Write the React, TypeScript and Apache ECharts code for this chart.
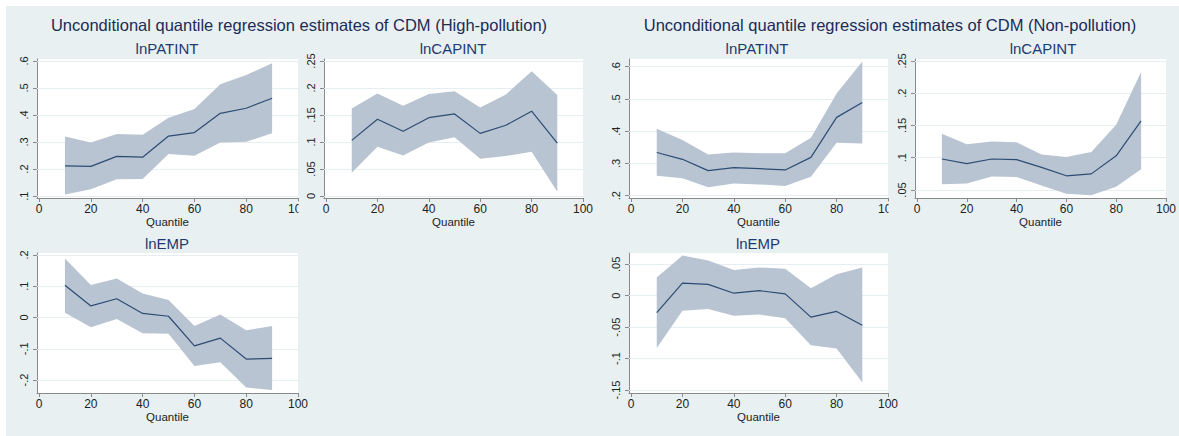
import React, { useEffect, useRef } from "react";
import * as echarts from "echarts";

// ---------------- data ----------------
const quantiles = [10, 20, 30, 40, 50, 60, 70, 80, 90];
const xTicks = [0, 20, 40, 60, 80, 100];

// High-pollution
const hpPatEst = [0.212, 0.21, 0.247, 0.244, 0.322, 0.335, 0.406, 0.425, 0.462];
const hpPatLo = [0.106, 0.125, 0.162, 0.163, 0.256, 0.249, 0.298, 0.301, 0.332];
const hpPatHi = [0.32, 0.298, 0.33, 0.327, 0.39, 0.422, 0.514, 0.548, 0.591];

const hpCapEst = [0.103, 0.142, 0.12, 0.145, 0.152, 0.116, 0.131, 0.157, 0.098];
const hpCapLo = [0.043, 0.091, 0.075, 0.099, 0.109, 0.069, 0.074, 0.082, 0.008];
const hpCapHi = [0.162, 0.19, 0.167, 0.189, 0.194, 0.164, 0.188, 0.231, 0.187];

const hpEmpEst = [0.103, 0.037, 0.06, 0.013, 0.004, -0.091, -0.066, -0.133, -0.131];
const hpEmpLo = [0.015, -0.031, -0.005, -0.05, -0.052, -0.155, -0.143, -0.224, -0.232];
const hpEmpHi = [0.189, 0.104, 0.125, 0.077, 0.056, -0.027, 0.01, -0.041, -0.027];

// Non-pollution
const npPatEst = [0.334, 0.313, 0.278, 0.287, 0.284, 0.28, 0.319, 0.443, 0.489];
const npPatLo = [0.262, 0.254, 0.226, 0.238, 0.235, 0.23, 0.259, 0.364, 0.362];
const npPatHi = [0.408, 0.373, 0.328, 0.334, 0.332, 0.332, 0.38, 0.517, 0.616];

const npCapEst = [0.098, 0.091, 0.098, 0.097, 0.085, 0.072, 0.075, 0.103, 0.157];
const npCapLo = [0.059, 0.06, 0.071, 0.07, 0.057, 0.044, 0.042, 0.055, 0.082];
const npCapHi = [0.137, 0.121, 0.125, 0.124, 0.105, 0.101, 0.109, 0.151, 0.233];

const npEmpEst = [-0.027, 0.02, 0.018, 0.004, 0.008, 0.003, -0.034, -0.025, -0.047];
const npEmpLo = [-0.083, -0.024, -0.021, -0.032, -0.03, -0.036, -0.079, -0.084, -0.138];
const npEmpHi = [0.029, 0.064, 0.056, 0.041, 0.045, 0.043, 0.012, 0.034, 0.045];

// y tick values
const hpPatTicks = [0.1, 0.2, 0.3, 0.4, 0.5, 0.6];
const hpCapTicks = [0, 0.05, 0.1, 0.15, 0.2, 0.25];
const hpEmpTicks = [-0.2, -0.1, 0, 0.1, 0.2];
const npPatTicks = [0.2, 0.3, 0.4, 0.5, 0.6];
const npCapTicks = [0.05, 0.1, 0.15, 0.2, 0.25];
const npEmpTicks = [-0.15, -0.1, -0.05, 0, 0.05];

const mainTitles = [
  "Unconditional quantile regression estimates of CDM (High-pollution)",
  "Unconditional quantile regression estimates of CDM (Non-pollution)",
];
const xName = "Quantile";

// ---------------- layout / style ----------------
const OX = 6;
const OY = 6;
const BG = "#e8f0f2";
const BAND = "#b9c4d2";
const LINE = "#2c4c74";
const AXIS = "#8a8a8a";
const GRIDLINE = "#e6eef1";
const FONT = "'Liberation Sans', Arial, Helvetica, sans-serif";

const panels = [
  { name: "lnPATINT", est: hpPatEst, lo: hpPatLo, hi: hpPatHi, ticks: hpPatTicks,
    x0: 37, x1: 298, y0: 59, y1: 198, yMin: 0.093, yMax: 0.607, tx: 167, ty: 48 },
  { name: "lnCAPINT", est: hpCapEst, lo: hpCapLo, hi: hpCapHi, ticks: hpCapTicks,
    x0: 324, x1: 583, y0: 59, y1: 198, yMin: -0.0037, yMax: 0.2537, tx: 453, ty: 48 },
  { name: "lnEMP", est: hpEmpEst, lo: hpEmpLo, hi: hpEmpHi, ticks: hpEmpTicks,
    x0: 37, x1: 298, y0: 253, y1: 393, yMin: -0.2416, yMax: 0.2064, tx: 167, ty: 243 },
  { name: "lnPATINT", est: npPatEst, lo: npPatLo, hi: npPatHi, ticks: npPatTicks,
    x0: 629, x1: 888, y0: 59, y1: 198, yMin: 0.193, yMax: 0.624, tx: 757, ty: 48 },
  { name: "lnCAPINT", est: npCapEst, lo: npCapLo, hi: npCapHi, ticks: npCapTicks,
    x0: 915, x1: 1175, y0: 59, y1: 198, yMin: 0.0376, yMax: 0.253, tx: 1043, ty: 48 },
  { name: "lnEMP", est: npEmpEst, lo: npEmpLo, hi: npEmpHi, ticks: npEmpTicks,
    x0: 629, x1: 888, y0: 253, y1: 393, yMin: -0.1548, yMax: 0.068, tx: 758, ty: 243 },
];

const fmt = (v: number) => (v === 0 ? "0" : String(v).replace("0.", "."));

function buildOption() {
  const grid: any[] = [];
  const xAxis: any[] = [];
  const yAxis: any[] = [];
  const series: any[] = [];
  const graphic: any[] = [];

  panels.forEach((p, i) => {
    grid.push({
      left: p.x0 - OX,
      top: p.y0 - OY,
      width: p.x1 - p.x0,
      height: p.y1 - p.y0,
      show: true,
      backgroundColor: "#ffffff",
      borderWidth: 0,
    });
    xAxis.push({
      type: "value",
      gridIndex: i,
      min: -0.8,
      max: 100,
      name: xName,
      nameLocation: "middle",
      nameGap: 17,
      nameTextStyle: { fontFamily: FONT, fontSize: 11.5, color: "#222" },
      axisLine: { show: true, onZero: false, lineStyle: { color: AXIS, width: 1 } },
      axisTick: { show: true, length: 4, customValues: xTicks, lineStyle: { color: AXIS } },
      axisLabel: { customValues: xTicks, margin: 5, fontFamily: FONT, fontSize: 12, color: "#222" },
      splitLine: { show: false },
    });
    yAxis.push({
      type: "value",
      gridIndex: i,
      min: p.yMin,
      max: p.yMax,
      axisLine: { show: true, onZero: false, lineStyle: { color: AXIS, width: 1 } },
      axisTick: { show: true, length: 4, customValues: p.ticks, lineStyle: { color: AXIS } },
      axisLabel: {
        customValues: p.ticks,
        rotate: 90,
        margin: 8,
        fontFamily: FONT,
        fontSize: 11,
        color: "#222",
        formatter: fmt,
      },
      splitLine: { show: false },
    });
    const lo = p.lo;
    const hi = p.hi;
    series.push({
      type: "custom",
      xAxisIndex: i,
      yAxisIndex: i,
      z: 2,
      silent: true,
      data: quantiles.map((q, k) => [q, lo[k], hi[k]]),
      encode: { x: 0, y: [1, 2] },
      renderItem: (params: any, api: any) => {
        if (params.dataIndex !== 0) return null;
        const up = quantiles.map((q, k) => api.coord([q, hi[k]]));
        const dn = quantiles.map((q, k) => api.coord([q, lo[k]])).reverse();
        return {
          type: "polygon",
          shape: { points: up.concat(dn) },
          style: { fill: BAND, stroke: null },
        };
      },
    });
    series.push({
      type: "line",
      xAxisIndex: i,
      yAxisIndex: i,
      z: 3,
      silent: true,
      symbol: "none",
      showSymbol: false,
      data: quantiles.map((q, k) => [q, p.est[k]]),
      lineStyle: { color: LINE, width: 1.2 },
      markLine: {
        silent: true,
        z: 1,
        symbol: ["none", "none"],
        label: { show: false },
        lineStyle: { color: GRIDLINE, type: "solid", width: 1 },
        data: p.ticks.map((v) => ({ yAxis: v })),
      },
    });
    graphic.push({
      type: "text",
      x: p.tx - OX,
      y: p.ty - OY,
      z: 50,
      style: {
        text: p.name,
        fill: "#1e3a70",
        font: `15px ${FONT}`,
        textAlign: "center",
        textVerticalAlign: "middle",
      },
    });
  });

  graphic.push({
    type: "text",
    x: 299 - OX,
    y: 25 - OY,
    z: 50,
    style: { text: mainTitles[0], fill: "#1c2b57", font: `16.5px ${FONT}`, textAlign: "center", textVerticalAlign: "middle" },
  });
  graphic.push({
    type: "text",
    x: 890 - OX,
    y: 25 - OY,
    z: 50,
    style: { text: mainTitles[1], fill: "#1c2b57", font: `16.5px ${FONT}`, textAlign: "center", textVerticalAlign: "middle" },
  });
  // neighbouring graph boxes clip the "100" labels in the top row
  graphic.push({ type: "rect", z: 100, silent: true, shape: { x: 298.5 - OX, y: 201 - OY, width: 19, height: 18 }, style: { fill: BG } });
  graphic.push({ type: "rect", z: 100, silent: true, shape: { x: 888.5 - OX, y: 201 - OY, width: 18, height: 18 }, style: { fill: BG } });

  return {
    animation: false,
    backgroundColor: BG,
    grid,
    xAxis,
    yAxis,
    series,
    graphic,
  };
}

export default function App() {
  const ref = useRef<HTMLDivElement>(null);
  useEffect(() => {
    if (!ref.current) return;
    const chart = echarts.init(ref.current, null, { renderer: "svg" });
    chart.setOption(buildOption() as any);
    return () => chart.dispose();
  }, []);
  return (
    <div style={{ position: "fixed", left: 0, top: 0, width: 1179, height: 436, background: "#ffffff" }}>
      <div ref={ref} style={{ position: "absolute", left: OX, top: OY, width: 1179 - OX, height: 436 - OY }} />
    </div>
  );
}
